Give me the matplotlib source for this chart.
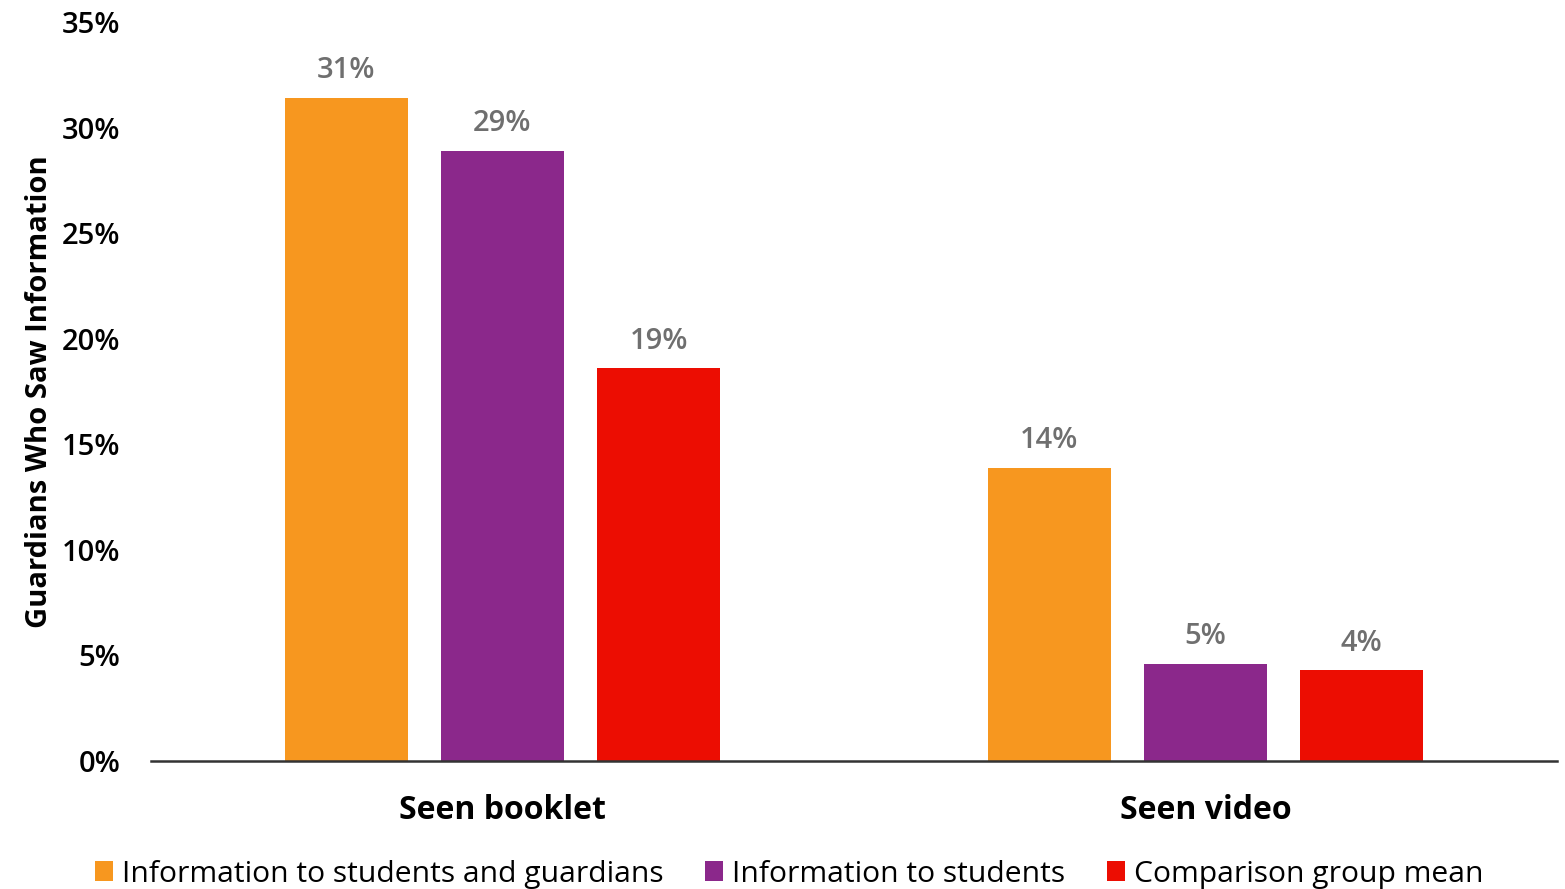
import matplotlib.pyplot as plt
import numpy as np

categories = ["Seen booklet", "Seen video"]
series_names = ["Information to students and guardians",
                "Information to students",
                "Comparison group mean"]
both = [31.4, 13.9]
students = [28.9, 4.6]
comparison = [18.6, 4.3]
colors = ["#F7971F", "#8B288B", "#EC0D02"]

plt.rcParams['font.family'] = ['Open Sans', 'DejaVu Sans']

fig = plt.figure(figsize=(15.65, 8.89), dpi=100)
ax = fig.add_axes([151 / 1565, 1 - 761 / 889, 1406 / 1565, 739 / 889])

x = np.arange(len(categories))
width = 0.175
step = 0.222
for i, (vals, name) in enumerate(zip([both, students, comparison], series_names)):
    bars = ax.bar(x + (i - 1) * step, vals, width, color=colors[i], label=name)
    for b, v in zip(bars, vals):
        ax.text(b.get_x() + b.get_width() / 2, v + 0.6, f"{v:.0f}%",
                ha='center', va='bottom', fontsize=21, fontweight='semibold',
                color='#6F6F6F')

ax.set_xlim(-0.5, 1.5)
ax.set_ylim(0, 35)
ax.set_yticks(np.arange(0, 36, 5))
ax.set_yticklabels([f"{t}%" for t in range(0, 36, 5)], fontsize=21,
                   fontweight='semibold')
ax.set_xticks(x)
ax.set_xticklabels(categories, fontsize=23, fontweight='bold')
ax.tick_params(axis='y', length=0, pad=22)
ax.tick_params(axis='x', length=0, pad=24)
for s in ['top', 'right', 'left']:
    ax.spines[s].set_visible(False)
ax.spines['bottom'].set_color('#333333')
ax.spines['bottom'].set_linewidth(1.8)
ax.set_ylabel("Guardians Who Saw Information", fontsize=21, fontweight='bold')
ax.yaxis.set_label_coords(-0.069, 0.5)

ax.legend(loc='center', bbox_to_anchor=(0.5 - 0.046, -0.153), ncol=3,
          frameon=False, fontsize=21.6, handlelength=0.6, handleheight=0.6,
          handletextpad=0.3, columnspacing=1.4)

fig.savefig("out.png", dpi=100)
